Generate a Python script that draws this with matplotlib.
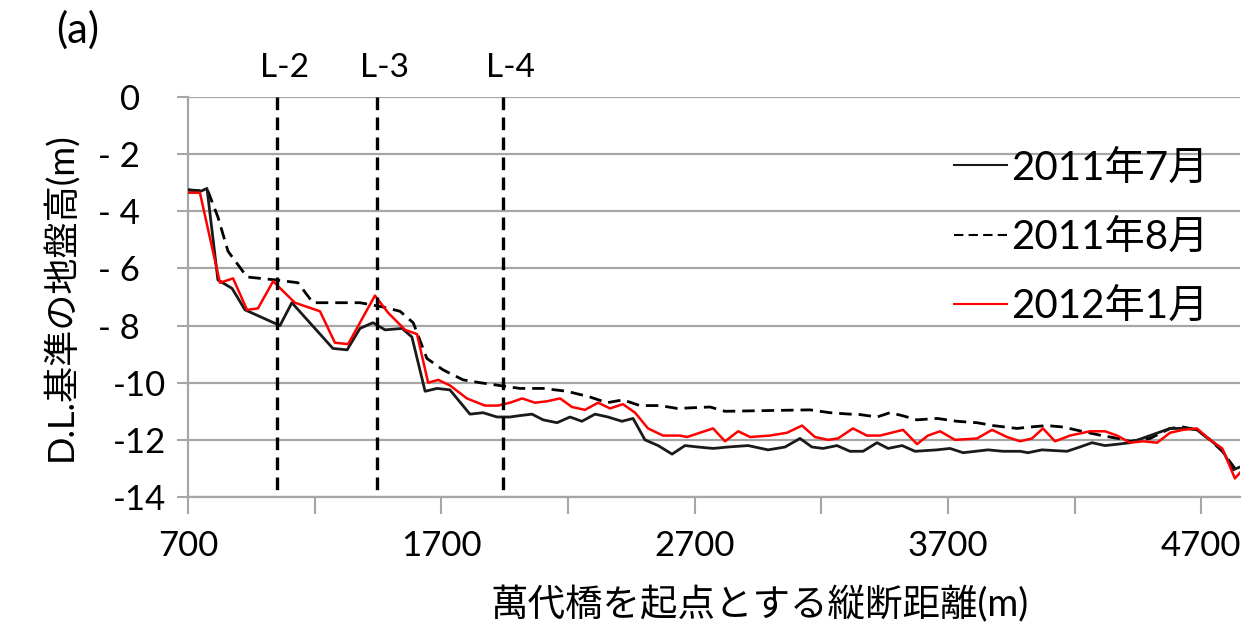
import matplotlib.pyplot as plt
from matplotlib.ticker import FixedLocator, FixedFormatter
from matplotlib.transforms import ScaledTranslation

plt.rcParams['font.family'] = ['Lato', 'Noto Sans CJK JP', 'DejaVu Sans']

# ================= DATA =================
# longitudinal distance from Bandai bridge (m) and ground level (D.L. m)
dist_2011_07 = [700, 750, 775, 818, 874, 925, 1063, 1110, 1272, 1328, 1379, 1430, 1478, 1545,
                1584, 1636, 1683, 1734, 1813, 1865, 1920, 1971, 2011, 2058, 2102, 2157, 2208,
                2255, 2307, 2358, 2413, 2457, 2504, 2556, 2611, 2662, 2713, 2773, 2832, 2911,
                2990, 3057, 3116, 3163, 3207, 3262, 3313, 3365, 3420, 3464, 3519, 3570, 3657,
                3708, 3760, 3858, 3917, 3985, 4016, 4071, 4170, 4221, 4269, 4320, 4372, 4419,
                4498, 4577, 4644, 4683, 4735, 4783, 4825, 4853]
elev_2011_07 = [-3.25, -3.3, -3.2, -6.4, -6.7, -7.45, -8.0, -7.2, -8.8, -8.85, -8.1, -7.9, -8.15,
                -8.1, -8.4, -10.3, -10.2, -10.25, -11.1, -11.05, -11.2, -11.2, -11.15, -11.1,
                -11.3, -11.4, -11.2, -11.35, -11.1, -11.2, -11.35, -11.25, -12.0, -12.2, -12.5,
                -12.2, -12.25, -12.3, -12.25, -12.2, -12.35, -12.25, -11.95, -12.25, -12.3,
                -12.2, -12.4, -12.4, -12.1, -12.3, -12.2, -12.4, -12.35, -12.3, -12.45, -12.35,
                -12.4, -12.4, -12.45, -12.35, -12.4, -12.25, -12.1, -12.2, -12.15, -12.1,
                -11.85, -11.6, -11.6, -11.65, -12.0, -12.35, -13.05, -12.95]

dist_2011_08 = [700, 779, 818, 858, 933, 1043, 1134, 1193, 1253, 1340, 1379, 1470, 1537, 1589,
                1643, 1707, 1786, 1853, 1932, 2011, 2102, 2196, 2287, 2354, 2417, 2484, 2563,
                2631, 2761, 2820, 3155, 3235, 3313, 3341, 3420, 3471, 3519, 3578, 3657, 3736,
                3815, 3878, 3973, 4024, 4091, 4154, 4229, 4308, 4372, 4419, 4498, 4577, 4628,
                4683, 4735, 4783, 4841]
elev_2011_08 = [-3.25, -3.3, -4.2, -5.4, -6.3, -6.4, -6.5, -7.2, -7.2, -7.2, -7.2, -7.35, -7.5,
                -7.9, -9.15, -9.55, -9.9, -10.0, -10.1, -10.2, -10.2, -10.3, -10.5, -10.7, -10.6,
                -10.8, -10.8, -10.9, -10.85, -11.0, -10.95, -11.05, -11.1, -11.1, -11.2, -11.05,
                -11.15, -11.3, -11.25, -11.35, -11.4, -11.5, -11.6, -11.55, -11.5, -11.55, -11.7,
                -11.85, -11.95, -12.05, -11.95, -11.6, -11.55, -11.65, -12.0, -12.4, -13.1]

dist_2012_01 = [700, 747, 826, 878, 933, 976, 1036, 1122, 1221, 1280, 1332, 1438, 1490, 1557,
                1604, 1648, 1688, 1735, 1801, 1872, 1924, 1971, 2019, 2070, 2117, 2169, 2216,
                2267, 2319, 2366, 2417, 2465, 2516, 2575, 2642, 2670, 2773, 2820, 2872, 2919,
                2998, 3065, 3124, 3175, 3227, 3266, 3325, 3380, 3432, 3523, 3578, 3621, 3669,
                3728, 3815, 3874, 3933, 3985, 4032, 4075, 4123, 4182, 4261, 4320, 4368, 4419,
                4470, 4526, 4577, 4628, 4683, 4735, 4783, 4833, 4853]
elev_2012_01 = [-3.35, -3.35, -6.5, -6.35, -7.45, -7.4, -6.45, -7.2, -7.5, -8.6, -8.65, -6.95,
                -7.55, -8.15, -8.3, -10.0, -9.9, -10.1, -10.55, -10.8, -10.8, -10.7, -10.55,
                -10.7, -10.65, -10.55, -10.85, -10.95, -10.7, -10.9, -10.75, -11.05, -11.6,
                -11.85, -11.85, -11.9, -11.6, -12.05, -11.7, -11.9, -11.85, -11.75, -11.5,
                -11.9, -12.0, -11.95, -11.6, -11.85, -11.85, -11.65, -12.15, -11.85, -11.7,
                -12.0, -11.95, -11.65, -11.9, -12.05, -11.95, -11.6, -12.05, -11.85, -11.7,
                -11.7, -11.85, -12.1, -12.05, -12.1, -11.75, -11.65, -11.6, -12.0, -12.3,
                -13.35, -13.15]

section_names = ['L-2', 'L-3', 'L-4']
section_dist = [1050, 1447, 1945]

x_ticks = [700, 1200, 1700, 2200, 2700, 3200, 3700, 4200, 4700]
x_tick_labels = ['700', '', '1700', '', '2700', '', '3700', '', '4700']
y_ticks = [0, -2, -4, -6, -8, -10, -12, -14]
y_tick_labels = ['0', '- 2', '- 4', '- 6', '- 8', '-10', '-12', '-14']
# ========================================

GRID = '#a6a6a6'

fig = plt.figure(figsize=(12.49, 6.34), dpi=100)
ax = fig.add_axes([188 / 1249, 137 / 634, 1052 / 1249, 400 / 634])

ax.plot(dist_2011_07, elev_2011_07, color='#1a1a1a', lw=2.0, label='2011年7月', zorder=4)
ax.plot(dist_2011_08, elev_2011_08, color='black', lw=2.0, ls=(0, (4.5, 2.5)),
        label='2011年8月', zorder=3)
ax.plot(dist_2012_01, elev_2012_01, color='#ff0000', lw=1.8, label='2012年1月', zorder=5)

for name, d in zip(section_names, section_dist):
    ax.plot([d, d], [0, -14], color='black', lw=2.4, ls=(0, (3.8, 2.2)), zorder=6)
    ax.text(d + 30, 0.5, name, ha='center', va='bottom', fontsize=24)

ax.set_xlim(700, 4853)
ax.set_ylim(-14, 0)

ax.yaxis.set_major_locator(FixedLocator(y_ticks))
ax.yaxis.set_major_formatter(FixedFormatter(y_tick_labels))
ax.xaxis.set_major_locator(FixedLocator(x_ticks))
ax.xaxis.set_major_formatter(FixedFormatter(x_tick_labels))
ax.tick_params(axis='y', length=8, width=1.5, color=GRID, labelsize=25, pad=8)
ax.tick_params(axis='x', length=12, width=1.5, color=GRID, labelsize=25, pad=12)

# single-digit labels sit one digit further left
fig.canvas.draw()
for lab in ax.get_yticklabels():
    if len(lab.get_text().replace('-', '').strip()) == 1:
        lab.set_transform(lab.get_transform() + ScaledTranslation(-0.26, 0, fig.dpi_scale_trans))

ax.grid(axis='y', color=GRID, lw=1.6)
for side in ['top', 'right']:
    ax.spines[side].set_visible(False)
for side in ['left', 'bottom']:
    ax.spines[side].set_color(GRID)
    ax.spines[side].set_linewidth(1.6)
ax.set_axisbelow(True)

leg = ax.legend(loc='upper right', bbox_to_anchor=(0.985, 0.91), frameon=False,
                fontsize=29, handlelength=1.3, handletextpad=0.1, labelspacing=0.8,
                borderaxespad=0)
for h in leg.get_lines():
    h.set_linewidth(1.5)

ax.set_ylabel('D.L.基準の地盤高(m)', fontsize=26, labelpad=14)
fig.text(760 / 1249, 1 - 605 / 634, '萬代橋を起点とする縦断距離(m)', ha='center', va='center',
         fontsize=27)
fig.text(78 / 1249, 1 - 30 / 634, '(a)', ha='center', va='center', fontsize=30)

fig.savefig('out.png', dpi=100)
